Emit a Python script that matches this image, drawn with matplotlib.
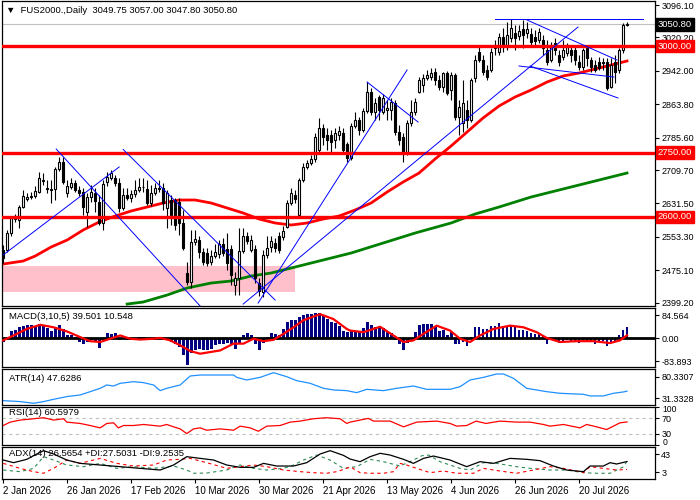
import numpy as np
import matplotlib as mpl
mpl.use('agg')
import matplotlib.pyplot as plt
import matplotlib.transforms as mtrans
from matplotlib.patches import Rectangle

plt.rcParams['font.family'] = ['Liberation Sans', 'DejaVu Sans']

# ---- daily candles (2 Jan 2026 .. early Aug 2026)
opens = [2522.5, 2522.5, 2562.3, 2595.1, 2592.8, 2623.2, 2641.9, 2646.6, 2649.0, 2658.3,
         2684.1, 2667.7, 2665.4, 2665.4, 2712.2, 2728.6, 2656.0, 2670.0, 2679.4, 2663.0,
         2658.3, 2611.5, 2646.6, 2656.0, 2634.9, 2585.8, 2681.7, 2691.1, 2691.1, 2679.4,
         2620.9, 2651.3, 2644.3, 2653.6, 2663.0, 2670.0, 2665.4, 2632.6, 2656.0, 2665.4,
         2667.7, 2620.9, 2639.6, 2639.6, 2634.9, 2585.8, 2468.7, 2447.6, 2541.3, 2546.0,
         2517.9, 2515.5, 2494.5, 2508.5, 2513.2, 2536.6, 2524.9, 2524.9, 2440.6, 2457.0,
         2520.2, 2555.3, 2522.5, 2524.9, 2445.3, 2424.2, 2510.8, 2529.6, 2538.9, 2555.3,
         2553.0, 2576.4, 2632.6, 2651.3, 2604.5, 2686.4, 2716.9, 2726.2, 2735.6, 2756.6,
         2808.2, 2791.8, 2791.8, 2780.1, 2791.8, 2796.4, 2770.7, 2737.9, 2812.8, 2826.9,
         2803.5, 2847.9, 2892.4, 2845.6, 2880.7, 2845.6, 2850.3, 2850.3, 2866.7, 2798.8,
         2787.1, 2752.0, 2819.9, 2845.6, 2892.4, 2908.8, 2925.2, 2927.5, 2939.2, 2920.5,
         2904.1, 2936.9, 2897.1, 2932.2, 2833.9, 2819.9, 2850.3, 2826.9, 2925.2, 2986.1,
         2967.3, 2943.9, 2943.9, 3000.1, 2986.1, 3021.2, 2997.8, 3018.8, 3030.5, 3023.5,
         3039.9, 3030.5, 3028.2, 3021.2, 3014.2, 3014.2, 2990.8, 2967.3, 3007.1, 2979.0,
         2974.4, 2983.7, 2990.8, 2990.8, 2962.7, 2951.0, 2995.4, 2967.3, 2955.6, 2962.7,
         2960.3, 2962.7, 2904.1, 2962.7, 2943.9, 2990.8, 3049.75]
highs = [2534.3, 2569.4, 2602.1, 2606.8, 2627.9, 2663.0, 2656.0, 2658.3, 2672.4, 2705.1,
         2702.8, 2686.4, 2686.4, 2716.9, 2740.3, 2740.3, 2686.4, 2691.1, 2686.4, 2672.4,
         2667.7, 2656.0, 2674.7, 2667.7, 2651.3, 2686.4, 2705.1, 2709.8, 2698.1, 2691.1,
         2667.7, 2667.7, 2663.0, 2686.4, 2691.1, 2691.1, 2686.4, 2674.7, 2679.4, 2686.4,
         2679.4, 2663.0, 2651.3, 2644.3, 2644.3, 2616.2, 2494.5, 2569.4, 2569.4, 2555.3,
         2527.2, 2527.2, 2522.5, 2536.6, 2546.0, 2550.6, 2562.3, 2534.3, 2471.0, 2574.1,
         2574.1, 2564.7, 2557.7, 2534.3, 2457.0, 2522.5, 2555.3, 2555.3, 2550.6, 2564.7,
         2578.7, 2639.6, 2667.7, 2663.0, 2691.1, 2726.2, 2733.2, 2744.9, 2796.4, 2831.6,
         2817.5, 2808.2, 2803.5, 2808.2, 2812.8, 2808.2, 2775.4, 2819.9, 2845.6, 2833.9,
         2855.0, 2915.8, 2901.8, 2878.4, 2885.4, 2887.7, 2873.7, 2878.4, 2873.7, 2815.2,
         2796.4, 2826.9, 2873.7, 2878.4, 2927.5, 2934.6, 2943.9, 2948.6, 2948.6, 2932.2,
         2939.2, 2941.6, 2939.2, 2936.9, 2873.7, 2920.5, 2873.7, 2925.2, 2979.0, 3002.5,
         2979.0, 2955.6, 2995.4, 3014.2, 3030.5, 3042.3, 3056.3, 3063.3, 3049.3, 3049.3,
         3061.0, 3056.3, 3042.3, 3037.6, 3042.3, 3025.9, 3014.2, 3009.5, 3018.8, 2990.8,
         3014.2, 3007.1, 3002.5, 3002.5, 2979.0, 2995.4, 3002.5, 2974.4, 2967.3, 2974.4,
         2972.0, 2972.0, 2972.0, 2979.0, 2995.4, 3054.0, 3057.0]
lows = [2492.1, 2517.9, 2555.3, 2588.1, 2574.1, 2620.9, 2637.3, 2641.9, 2644.3, 2656.0,
        2674.7, 2656.0, 2632.6, 2639.6, 2707.5, 2677.1, 2646.6, 2665.4, 2658.3, 2649.0,
        2604.5, 2576.4, 2634.9, 2611.5, 2581.1, 2569.4, 2672.4, 2686.4, 2672.4, 2611.5,
        2616.2, 2639.6, 2634.9, 2646.6, 2658.3, 2658.3, 2627.9, 2625.6, 2651.3, 2658.3,
        2616.2, 2574.1, 2581.1, 2569.4, 2557.7, 2522.5, 2440.6, 2433.6, 2534.3, 2503.8,
        2487.4, 2485.1, 2487.4, 2503.8, 2503.8, 2508.5, 2475.7, 2440.6, 2417.2, 2417.2,
        2515.5, 2536.6, 2517.9, 2445.3, 2414.9, 2412.5, 2503.8, 2517.9, 2517.9, 2515.5,
        2546.0, 2574.1, 2627.9, 2632.6, 2597.5, 2681.7, 2712.2, 2721.5, 2728.6, 2752.0,
        2768.4, 2756.6, 2749.6, 2761.3, 2780.1, 2749.6, 2728.6, 2733.2, 2808.2, 2791.8,
        2798.8, 2843.3, 2838.6, 2826.9, 2826.9, 2840.9, 2826.9, 2826.9, 2791.8, 2768.4,
        2728.6, 2744.9, 2812.8, 2838.6, 2890.1, 2892.4, 2920.5, 2920.5, 2908.8, 2897.1,
        2892.4, 2885.4, 2873.7, 2826.9, 2791.8, 2798.8, 2808.2, 2822.2, 2915.8, 2962.7,
        2932.2, 2920.5, 2939.2, 2979.0, 2979.0, 2986.1, 2990.8, 3009.5, 2990.8, 3014.2,
        2995.4, 3018.8, 2997.8, 3002.5, 3007.1, 2979.0, 2955.6, 2962.7, 2979.0, 2953.3,
        2967.3, 2976.7, 2962.7, 2955.6, 2943.9, 2943.9, 2953.3, 2939.2, 2939.2, 2943.9,
        2943.9, 2897.1, 2901.8, 2913.5, 2936.9, 2983.7, 3047.8]
closes = [2503.8, 2562.3, 2597.5, 2599.8, 2623.2, 2649.0, 2646.6, 2649.0, 2660.7, 2691.1,
          2686.4, 2665.4, 2663.0, 2712.2, 2728.6, 2681.7, 2672.4, 2679.4, 2663.0, 2656.0,
          2623.2, 2646.6, 2658.3, 2637.3, 2585.8, 2677.1, 2693.4, 2702.8, 2679.4, 2620.9,
          2651.3, 2644.3, 2653.6, 2663.0, 2670.0, 2669.0, 2632.6, 2656.0, 2667.7, 2667.7,
          2632.6, 2656.0, 2604.5, 2581.1, 2585.8, 2527.2, 2447.6, 2541.3, 2548.3, 2517.9,
          2494.5, 2492.1, 2508.5, 2517.9, 2536.6, 2515.5, 2492.1, 2464.0, 2457.0, 2520.2,
          2555.3, 2543.6, 2546.0, 2457.0, 2426.6, 2510.8, 2527.2, 2543.6, 2527.2, 2522.5,
          2567.0, 2632.6, 2656.0, 2641.9, 2686.4, 2716.9, 2726.2, 2735.6, 2787.1, 2808.2,
          2787.1, 2780.1, 2775.4, 2796.4, 2801.1, 2756.6, 2737.9, 2812.8, 2826.9, 2803.5,
          2847.9, 2892.4, 2845.6, 2866.7, 2850.3, 2878.4, 2855.0, 2869.0, 2798.8, 2780.1,
          2752.0, 2819.9, 2845.6, 2869.0, 2920.5, 2925.2, 2932.2, 2936.9, 2920.5, 2904.1,
          2936.9, 2890.1, 2932.2, 2833.9, 2857.3, 2866.7, 2826.9, 2920.5, 2967.3, 2967.3,
          2939.2, 2927.5, 2986.1, 2995.4, 3021.2, 2997.8, 3025.9, 3042.3, 3018.8, 3035.2,
          3025.9, 3039.9, 3009.5, 3011.8, 3032.9, 2995.4, 2962.7, 3002.5, 2990.8, 2962.7,
          2990.8, 2997.8, 2979.0, 2967.3, 2951.0, 2990.8, 2972.0, 2951.0, 2943.9, 2948.6,
          2962.7, 2901.8, 2955.6, 2939.2, 2990.8, 3049.3, 3050.80]

# moving averages (read at sample bars)
ma_red_idx = [0, 5, 8, 12, 16, 20, 24, 28, 32, 36, 40, 44, 48, 52, 56, 60, 64, 68, 72, 76,
              80, 84, 88, 92, 96, 100, 104, 108, 112, 116, 120, 124, 128, 132, 136, 140, 144,
              148, 152, 156]
ma_red_val = [2489.8, 2496.8, 2508.5, 2529.6, 2546.0, 2569.4, 2588.1, 2602.1, 2613.9, 2623.2,
              2632.6, 2639.6, 2639.6, 2632.6, 2620.9, 2609.2, 2595.1, 2585.8, 2581.1, 2585.8,
              2595.1, 2602.1, 2616.2, 2632.6, 2658.3, 2681.7, 2702.8, 2735.6, 2766.0, 2798.8,
              2831.6, 2859.7, 2880.7, 2897.1, 2915.8, 2929.9, 2936.9, 2946.3, 2955.6, 2965.0]
ma_green_idx = [31, 35, 41, 46, 52, 57, 62, 67, 72, 77, 82, 87, 95, 103, 112, 118, 124, 132,
                141, 149, 156]
ma_green_val = [2396.1, 2400.8, 2417.2, 2433.6, 2445.3, 2450.0, 2461.7, 2468.7, 2480.4, 2492.1,
                2503.8, 2515.5, 2538.9, 2562.3, 2585.8, 2606.8, 2623.2, 2646.6, 2667.7, 2686.4,
                2702.8]

levels = [3000.0, 2750.0, 2600.0]
last_price = 3050.80
zone = (0, 73, 2424.2, 2485.1)  # bar from, bar to, low, high

# trend lines: (bar0, price0, bar1, price1)
trend_lines = [
    (0, 2511, 29, 2717),
    (13.25, 2759, 49.25, 2391.5),
    (30, 2758, 68, 2405.5),
    (60, 2396, 143.75, 3044.6),
    (63.75, 2398.5, 101, 2944),
    (91, 2915.8, 103.75, 2822.2),
    (123, 3063, 160, 3063),
    (131, 3061, 153.5, 2967.3),
    (129, 2953.3, 152.75, 2927.5),
    (131.75, 2953.3, 153.75, 2878.4),
]

# MACD(3,10,5)
macd_hist = [-14, 6, 25, 30, 42, 46, 49, 49, 46, 52, 49, 37, 28, 42, 49, 34, 13, 10, 4, -14,
             -20, -14, -6, -11, -35, -6, 19, 16, 18, -8, -2, -8, -6, -2, 6, 6, -8, -6, 1, 6,
             -6, -6, -14, -20, -32, -63, -98, -54, -45, -38, -42, -45, -38, -26, -20, -20, -18,
             -26, -38, -20, 10, 19, 10, -20, -42, -18, 6, 19, 16, 10, 34, 58, 66, 66, 78, 85,
             88, 88, 91, 94, 82, 70, 58, 54, 46, 28, 22, 28, 28, 28, 37, 60, 49, 42, 42, 37, 22,
             18, -6, -23, -42, -18, -2, 22, 49, 52, 52, 52, 42, 28, 30, 10, 22, -20, -20, -14,
             -30, 6, 40, 42, 34, 34, 46, 46, 55, 46, 46, 46, 42, 30, 30, 28, 18, 16, 16, 10, -20,
             -6, -8, -18, -11, -8, -11, -11, -18, -8, -11, -11, -20, -14, -11, -30, -14, -14, 10,
             30, 39.501]
macd_sig_idx = [0, 2.6, 5.9, 9.25, 12.6, 15.9, 19.25, 21.75, 24.25, 26.75, 29.25, 31.75, 34.25,
                37.6, 39.25, 41.75, 44.25, 46.75, 49.25, 51.75, 54.25, 57.6, 60.1, 62.6, 65.1,
                67.6, 70.1, 72.6, 75.1, 79.25, 82.6, 85.9, 86.75, 90.1, 94.25, 96.75, 100.1,
                102.6, 105.1, 108.4, 111.75, 114.25, 116.75, 119.25, 122.6, 126.75, 130.1, 133.4,
                135.9, 139.25, 143.4, 147.6, 151.75, 154.25, 156]
macd_sig_val = [-8, 10, 34, 49, 40, 25, 4, -11, -14, -2, 10, -2, -5, -2, 1, -8, -26, -47, -57,
                -51, -45, -20, -20, -2, -11, -6, 16, 40, 66, 88, 70, 34, 28, 22, 42, 18, -14, -8,
                16, 46, 28, -2, -14, 10, 34, 46, 40, 22, 1, -14, -11, -11, -18, -8, 10.548]

# ATR(14)
atr_idx = [0, 4.25, 7.6, 10.1, 12.6, 15.9, 19.25, 21.75, 24.25, 25.9, 27.6, 29.25, 32.6, 35.1,
           37.6, 39.25, 40.9, 44.25, 46.75, 49.25, 54.25, 57.6, 58.4, 60.9, 64.25, 67.6, 70.9,
           73.4, 76.75, 80.1, 82.6, 85.9, 88.4, 90.9, 95.1, 98.4, 102.6, 105.9, 111.75, 114.25,
           116.75, 120.1, 123.4, 125.1, 127.6, 130.9, 135.9, 139.25, 145.1, 146.75, 150.1, 152.6,
           155.1, 156]
atr_val = [26.1, 23.9, 20.1, 23.9, 29.1, 35.2, 38.9, 46.4, 54.0, 61.5, 59.2, 65.3, 69.0, 66.8,
           61.5, 48.7, 54.0, 61.5, 81.8, 84.1, 84.1, 84.1, 78.8, 72.8, 78.8, 89.4, 80.3, 71.3,
           65.3, 54.0, 50.2, 48.7, 44.2, 51.7, 48.7, 54.0, 59.2, 51.7, 51.7, 57.7, 72.8, 78.8,
           86.4, 86.4, 76.6, 54.0, 46.4, 42.7, 40.4, 36.7, 36.7, 42.7, 45.7, 47.6286]

# RSI(14)
rsi_idx = [0, 1.75, 4.25, 7.6, 10.1, 12.6, 15.1, 15.9, 19.25, 21.75, 24.25, 25.9, 27.6, 28.8,
           30.1, 32.6, 35.1, 37.6, 39.25, 40.9, 42.6, 44.25, 45.9, 47.6, 49.25, 50.9, 54.25,
           57.6, 59.25, 61.75, 63.8, 65.9, 69.25, 71.75, 74.25, 77.6, 80.9, 84.25, 85.9, 86.75,
           89.25, 91.3, 92.6, 96.75, 100.1, 103.4, 108.4, 111.75, 113.4, 115.9, 118.25, 120.75,
           124.25, 128.4, 131.75, 135.1, 136.75, 140.1, 144.25, 145.9, 148.4, 150.9, 152.6,
           154.25, 156]
rsi_val = [51.3, 60.2, 65.6, 69.1, 71.8, 65.6, 69.1, 60.2, 56.7, 51.3, 45.1, 56.7, 58.4, 45.1,
           51.3, 51.3, 54.0, 51.3, 49.6, 54.0, 47.8, 42.4, 30.0, 42.4, 45.1, 38.9, 42.4, 38.9,
           49.6, 45.1, 36.2, 49.6, 51.3, 60.2, 62.9, 69.1, 71.8, 69.1, 56.7, 60.2, 65.6, 70.0,
           62.9, 62.9, 47.8, 60.2, 62.9, 56.7, 49.6, 51.3, 62.9, 56.7, 62.9, 60.2, 60.2, 54.0,
           49.6, 54.0, 45.1, 54.0, 47.8, 40.7, 49.6, 58.4, 60.5979]

# ADX(14), +DI, -DI
adx_idx = [0, 2.6, 5.9, 8.4, 10.1, 12.6, 15.9, 19.25, 24.25, 29.25, 34.25, 39.25, 42.6, 45.9,
           49.25, 52.6, 55.9, 59.25, 62.6, 65.1, 68.4, 72.6, 75.9, 79.25, 81.75, 85.1, 86.75,
           89.25, 91.75, 94.25, 96.75, 100.1, 102.6, 105.1, 107.6, 111.75, 115.9, 119.25, 122.6,
           126.75, 130.9, 134.25, 137.6, 140.9, 145.1, 146.75, 150.1, 151.75, 153.4, 156]
adx_val = [29.9, 24.1, 31.4, 43.0, 50.3, 43.0, 29.9, 22.6, 19.0, 15.4, 11.7, 8.1, 19.0, 37.2,
           33.5, 29.9, 19.0, 13.9, 13.9, 22.6, 16.8, 16.8, 24.1, 43.0, 50.3, 40.0, 32.0, 26.3,
           37.2, 44.5, 40.8, 31.4, 22.6, 33.5, 38.6, 29.9, 15.4, 26.3, 22.6, 33.5, 31.4, 28.5,
           16.8, 8.1, 4.5, 16.8, 16.8, 24.1, 21.2, 26.5654]
pdi_idx = [0, 4.25, 7.6, 10.1, 12.6, 15.9, 20.1, 24.25, 28.4, 32.6, 37.6, 42.6, 45.9, 47.6,
           50.9, 55.9, 59.25, 62.6, 65.9, 70.1, 72.6, 75.1, 78.4, 81.75, 85.1, 88.4, 91.75, 95.1,
           99.25, 102.6, 104.75, 106.4, 109.25, 114.25, 116.75, 120.1, 123.4, 128.4, 131.75,
           136.75, 140.9, 145.1, 148.4, 151.75, 155.1, 156]
pdi_val = [8.1, 4.5, 11.7, 37.2, 29.9, 19.0, 15.4, 22.6, 11.7, 15.4, 11.7, 16.8, 8.1, 1.0, 1.5,
           8.1, 19.0, 11.7, 8.1, 11.7, 19.0, 29.9, 40.8, 29.9, 11.7, 15.4, 31.4, 26.3, 16.8, 29.9,
           39.4, 40.8, 26.3, 11.7, 8.1, 24.1, 22.6, 15.4, 11.7, 8.1, 8.1, 2.3, 1.0, 1.0, 15.0,
           27.5031]
mdi_idx = [0, 4.25, 7.6, 10.1, 12.6, 15.9, 19.25, 24.25, 28.4, 32.6, 37.6, 40.9, 44.25, 46.75,
           50.9, 55.9, 59.25, 62.6, 65.9, 70.1, 74.25, 77.6, 80.9, 83.4, 85.9, 86.75, 89.25,
           91.75, 95.1, 97.6, 99.25, 100.9, 103.4, 106.75, 110.1, 113.4, 117.6, 120.1, 124.25,
           128.4, 132.6, 136.75, 140.1, 145.1, 146.75, 150.1, 153.4, 156]
mdi_val = [22.6, 11.7, 4.5, 1.0, 11.7, 29.9, 22.6, 33.5, 22.6, 16.8, 19.0, 29.9, 31.4, 33.5,
           24.1, 11.7, 15.4, 19.0, 15.4, 8.1, 4.5, 2.3, 1.0, 4.5, 11.7, 15.4, 2.3, 1.0, 1.0, 4.5,
           22.6, 19.0, 11.7, 2.3, 5.9, 1.0, 1.0, 11.7, 5.9, 1.0, 8.1, 15.4, 11.7, 2.3, 15.4, 11.7,
           8.1, 9.2535]

date_labels = ['2 Jan 2026', '26 Jan 2026', '17 Feb 2026', '10 Mar 2026', '30 Mar 2026',
               '21 Apr 2026', '13 May 2026', '4 Jun 2026', '26 Jun 2026', '20 Jul 2026']
date_ticks = [0, 16, 32, 48, 64, 80, 96, 112, 128, 144]

# ---- layout in pixels, like the terminal window
W, H = 700, 500
FS = 6.5


def box(x0, y0, x1, y1):
    return [x0 / W, 1 - y1 / H, (x1 - x0) / W, (y1 - y0) / H]


fig = plt.figure(figsize=(7, 5), dpi=100)
ax = fig.add_axes(box(2, 1, 655, 306))
ax_macd = fig.add_axes(box(2, 308, 655, 367), sharex=ax)
ax_atr = fig.add_axes(box(2, 369, 655, 405), sharex=ax)
ax_rsi = fig.add_axes(box(2, 407, 655, 445), sharex=ax)
ax_adx = fig.add_axes(box(2, 447, 655, 479), sharex=ax)
panels = [ax, ax_macd, ax_atr, ax_rsi, ax_adx]

for a in panels:
    a.yaxis.tick_right()
    a.tick_params(axis='y', labelsize=FS, length=3, pad=1.5, width=0.8)
    a.tick_params(axis='x', bottom=False, labelbottom=False)
    for s in a.spines.values():
        s.set_linewidth(0.9)
        s.set_color('black')

# ---- main price panel
x = np.arange(len(closes))
o = np.array(opens)
c = np.array(closes)
h = np.array(highs)
l = np.array(lows)
up = c >= o

ax.add_patch(Rectangle((-0.5, zone[2]), zone[1] + 0.5, zone[3] - zone[2],
                       facecolor='#FFC0CB', edgecolor='none', zorder=0))
ax.axhline(last_price, color='#C0C0C0', lw=0.8, zorder=1)
ax.plot(ma_green_idx, ma_green_val, color='#008000', lw=2.0, zorder=2)
ax.plot(ma_red_idx, ma_red_val, color='red', lw=2.0, zorder=2)

ax.vlines(x, l, h, color='black', lw=0.8, zorder=3)
ax.bar(x[up], np.maximum(c - o, 0.5)[up], bottom=o[up], width=0.55,
       facecolor='white', edgecolor='black', lw=0.8, zorder=4)
ax.bar(x[~up], (o - c)[~up], bottom=c[~up], width=0.55,
       facecolor='black', edgecolor='black', lw=0.8, zorder=4)

for lvl in levels:
    ax.axhline(lvl, color='red', lw=2.4, zorder=5)
for b0, p0, b1, p1 in trend_lines:
    ax.plot([b0, b1], [p0, p1], color='blue', lw=0.7, zorder=6)

ax.set_xlim(-0.3, 163)
ax.set_ylim(2391.5, 3105.5)
main_ticks = [3096.10, 3020.20, 2942.00, 2863.80, 2785.60, 2709.70, 2631.50,
              2553.30, 2475.10, 2399.20]
ax.set_yticks(main_ticks)
ax.set_yticklabels(['%.2f' % t for t in main_ticks])

tr = mtrans.blended_transform_factory(ax.transAxes, ax.transData)
for lvl in levels:
    ax.text(1.004, lvl, '%.2f' % lvl, transform=tr, color='white', fontsize=FS + 0.3,
            va='center', ha='left', zorder=10, clip_on=False,
            bbox=dict(boxstyle='square,pad=0.2', fc='red', ec='red'))
ax.text(1.004, last_price, '%.2f' % last_price, transform=tr, color='white', fontsize=FS + 0.3,
        va='center', ha='left', zorder=10, clip_on=False,
        bbox=dict(boxstyle='square,pad=0.2', fc='black', ec='black'))

ax.text(0.006, 0.982, '\u25bc  FUS2000.,Daily  %.2f %.2f %.2f %.2f'
        % (opens[-1], highs[-1], lows[-1], closes[-1]),
        transform=ax.transAxes, va='top', ha='left', fontsize=FS + 0.3)

# ---- MACD
ax_macd.bar(x, macd_hist, width=0.72, color='#000080', zorder=2)
ax_macd.axhline(0, color='black', lw=2.0, zorder=3)
ax_macd.plot(macd_sig_idx, macd_sig_val, color='red', lw=1.6, zorder=4)
ax_macd.set_ylim(-105.8, 110.8)
ax_macd.set_yticks([84.564, 0.0, -83.893])
ax_macd.set_yticklabels(['84.564', '0.00', '-83.893'])
ax_macd.text(0.01, 0.93, 'MACD(3,10,5) %.3f %.3f' % (macd_hist[-1], macd_sig_val[-1]),
             transform=ax_macd.transAxes, va='top', ha='left', fontsize=FS + 0.3)

# ---- ATR
ax_atr.plot(atr_idx, atr_val, color='#1E90FF', lw=0.9)
ax_atr.set_ylim(16.2, 97.7)
ax_atr.set_yticks([80.3307, 31.3328])
ax_atr.set_yticklabels(['80.3307', '31.3328'])
ax_atr.text(0.01, 0.86, 'ATR(14) %.4f' % atr_val[-1],
            transform=ax_atr.transAxes, va='top', ha='left', fontsize=FS + 0.3)

# ---- RSI
ax_rsi.axhline(70, color='#C0C0C0', lw=0.8, ls=(0, (3, 3)))
ax_rsi.axhline(30, color='#C0C0C0', lw=0.8, ls=(0, (3, 3)))
ax_rsi.plot(rsi_idx, rsi_val, color='red', lw=0.9)
ax_rsi.set_ylim(0, 100)
ax_rsi.set_yticks([100, 70, 30, 0])
ax_rsi.set_yticklabels(['', '70', '30', ''])
trr = mtrans.blended_transform_factory(ax_rsi.transAxes, ax_rsi.transData)
ax_rsi.text(1.012, 93, '100', transform=trr, fontsize=FS - 0.3, va='center', ha='left',
            clip_on=False)
ax_rsi.text(1.012, 7, '0', transform=trr, fontsize=FS - 0.3, va='center', ha='left',
            clip_on=False)
ax_rsi.text(0.01, 0.97, 'RSI(14) %.4f' % rsi_val[-1],
            transform=ax_rsi.transAxes, va='top', ha='left', fontsize=FS + 0.3)

# ---- ADX
ax_adx.plot(pdi_idx, pdi_val, color='#2E8B57', lw=0.8, ls=(0, (3, 3)))
ax_adx.plot(mdi_idx, mdi_val, color='red', lw=0.8, ls=(0, (3, 3)))
ax_adx.plot(adx_idx, adx_val, color='black', lw=0.9)
ax_adx.set_ylim(-11.5, 58.3)
ax_adx.set_yticks([43, 3])
ax_adx.set_yticklabels(['43', '3'])
ax_adx.text(0.01, 0.93, 'ADX(14) %.4f +DI:%.4f -DI:%.4f' % (adx_val[-1], pdi_val[-1], mdi_val[-1]),
            transform=ax_adx.transAxes, va='top', ha='left', fontsize=FS + 0.3)

ax_adx.tick_params(axis='x', bottom=True, labelbottom=True, labelsize=FS + 0.5,
                   length=3, width=0.8, pad=2)
ax_adx.set_xticks(date_ticks)
ax_adx.set_xticklabels(date_labels, ha='left')

plt.savefig('out.png', dpi=100)
plt.close()
